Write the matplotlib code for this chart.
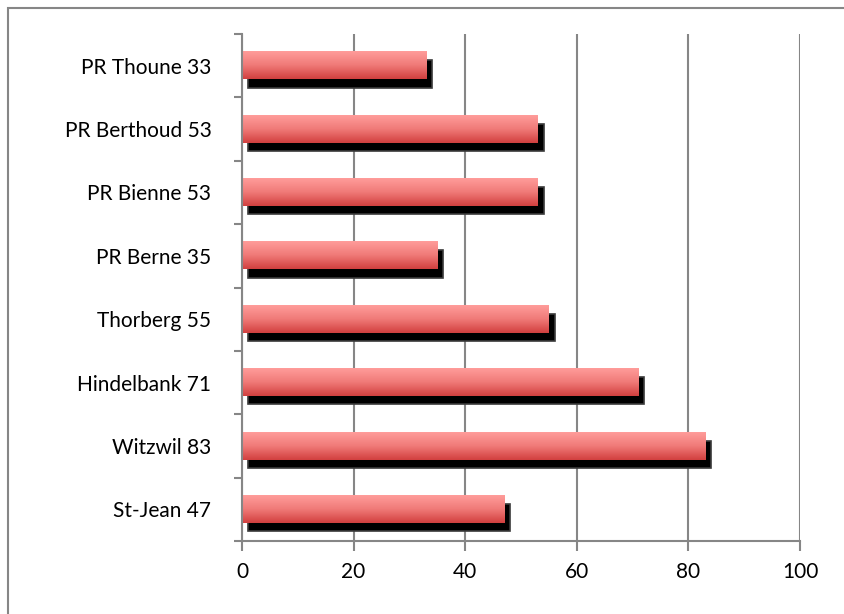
import numpy as np
import matplotlib
matplotlib.use("Agg")
import matplotlib.pyplot as plt
from matplotlib.patches import Rectangle
from matplotlib.colors import LinearSegmentedColormap

categories = ["St-Jean 47", "Witzwil 83", "Hindelbank 71", "Thorberg 55",
              "PR Berne 35", "PR Bienne 53", "PR Berthoud 53", "PR Thoune 33"]
values = [47, 83, 71, 55, 35, 53, 53, 33]
x_ticks = [0, 20, 40, 60, 80, 100]

plt.rcParams['font.family'] = ['Lato', 'DejaVu Sans']

fig = plt.figure(figsize=(8.44, 6.14), dpi=100)
ax = fig.add_axes([242 / 844, 1 - 541 / 614, 558 / 844, 507 / 614])

# outer chart frame
fig.patches.append(Rectangle((8 / 844, -0.05), 1.1, 1 - 8 / 614 + 0.05,
                             transform=fig.transFigure, fill=False,
                             edgecolor="#868686", linewidth=1.5, zorder=0))

grid_color = "#868686"
bar_h = 0.43
shadow_dx = 1.1
shadow_dy = 0.13

grad = LinearSegmentedColormap.from_list("bar", ["#d2403f", "#f07a78", "#ff9c9a"])
gimg = np.linspace(0, 1, 64).reshape(-1, 1)

for i, v in enumerate(values):
    # drop shadow
    ax.add_patch(Rectangle((shadow_dx, i - bar_h / 2 - shadow_dy), v, bar_h,
                           facecolor="black", edgecolor="#3a3a3a",
                           linewidth=1.2, zorder=3))
    # gradient bar
    ax.imshow(gimg, cmap=grad, aspect="auto", origin="lower",
              extent=(0, v, i - bar_h / 2, i + bar_h / 2), zorder=4)

ax.set_xlim(0, 100)
ax.set_ylim(-0.5, len(values) - 0.5)

ax.set_xticks(x_ticks)
ax.set_xticklabels([str(t) for t in x_ticks], fontsize=15)
ax.set_yticks(range(len(categories)))
ax.set_yticklabels(categories, fontsize=15)
ax.tick_params(axis="y", length=0, pad=22)
ax.tick_params(axis="x", length=7, width=1.5, color=grid_color, pad=8)

# minor ticks between categories on the value axis
ax.set_yticks(np.arange(-0.5, len(values), 1), minor=True)
ax.tick_params(axis="y", which="minor", length=6, width=1.5, color=grid_color)

ax.grid(axis="x", color=grid_color, linewidth=1.5, zorder=1)
ax.set_axisbelow(True)
for side in ["top", "right"]:
    ax.spines[side].set_visible(False)
for side in ["left", "bottom"]:
    ax.spines[side].set_color(grid_color)
    ax.spines[side].set_linewidth(1.5)
    ax.spines[side].set_zorder(5)

fig.savefig("out.png", dpi=100)
